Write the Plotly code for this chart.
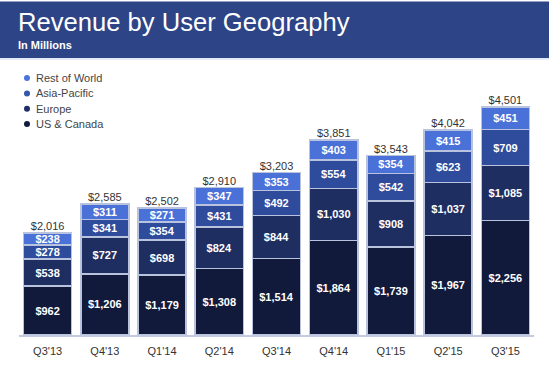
import plotly.graph_objects as go

quarters = ["Q3'13", "Q4'13", "Q1'14", "Q2'14", "Q3'14", "Q4'14", "Q1'15", "Q2'15", "Q3'15"]
us_canada = [962, 1206, 1179, 1308, 1514, 1864, 1739, 1967, 2256]
europe = [538, 727, 698, 824, 844, 1030, 908, 1037, 1085]
asia_pacific = [278, 341, 354, 431, 492, 554, 542, 623, 709]
rest_of_world = [238, 311, 271, 347, 353, 403, 354, 415, 451]
totals = [2016, 2585, 2502, 2910, 3203, 3851, 3543, 4042, 4501]

series_names = ["US & Canada", "Europe", "Asia-Pacific", "Rest of World"]
series_values = [us_canada, europe, asia_pacific, rest_of_world]
series_colors = ["#121a3b", "#1f2e61", "#2f4b9b", "#4a71d8"]
legend_colors = ["#121b3d", "#1f3066", "#3458a8", "#4a74dd"]

FONT = "Liberation Sans, Arial, Helvetica, sans-serif"

fig = go.Figure()
for name, vals, col in zip(series_names, series_values, series_colors):
    fig.add_trace(go.Bar(
        x=quarters, y=vals, name=name, showlegend=False,
        marker=dict(color=col, line=dict(color="#b9c3de", width=1.5)),
        text=[f"${v:,}" for v in vals], textposition="inside",
        insidetextanchor="middle",
        textfont=dict(color="white", size=11, family=FONT, weight="bold"),
        hoverinfo="skip",
    ))

fig.add_trace(go.Scatter(
    x=quarters, y=totals, mode="text", showlegend=False,
    text=[f"${v:,}" for v in totals], textposition="top center",
    textfont=dict(color="#333333", size=11, family=FONT),
    cliponaxis=False, hoverinfo="skip",
))

# plot area geometry in pixels (for paper conversions)
W, H = 549, 369
ml, mr, mt, mb = 19, 15, 80, 23
pw, ph = W - ml - mr, H - mt - mb

def px(x):
    return (x - ml) / pw

def py(y):
    return (H - mb - y) / ph

shapes = [
    dict(type="rect", xref="paper", yref="paper", x0=px(-2), x1=px(W + 2),
         y0=py(57), y1=py(-2), fillcolor="#2d4486", line=dict(width=0), layer="above"),
    dict(type="rect", xref="paper", yref="paper", x0=px(-2), x1=px(W + 2),
         y0=py(59), y1=py(57), fillcolor="#dfe6f4", line=dict(width=0), layer="above"),
]
annotations = [
    dict(text="Revenue by User Geography", x=px(16), y=py(19), xref="paper", yref="paper",
         xanchor="left", yanchor="middle", showarrow=False,
         font=dict(color="white", size=25.6, family=FONT)),
    dict(text="In Millions", x=px(16), y=py(43), xref="paper", yref="paper",
         xanchor="left", yanchor="middle", showarrow=False,
         font=dict(color="white", size=11, family=FONT, weight="bold")),
]

legend_rows = [78, 94, 110, 126]
for i, idx in enumerate([3, 2, 1, 0]):
    yy = legend_rows[i]
    shapes.append(dict(type="circle", xref="paper", yref="paper", xsizemode="pixel",
                       ysizemode="pixel", xanchor=px(27), yanchor=py(yy),
                       x0=-3, x1=3, y0=-3, y1=3, fillcolor=legend_colors[idx],
                       line=dict(width=0)))
    annotations.append(dict(text=series_names[idx], x=px(34), y=py(yy), xref="paper",
                            yref="paper", xanchor="left", yanchor="middle", showarrow=False,
                            font=dict(color="#444444", size=11, family=FONT)))

fig.update_layout(
    width=W, height=H, barmode="stack", bargap=0.16,
    margin=dict(l=ml, r=mr, t=mt, b=mb),
    paper_bgcolor="white", plot_bgcolor="white",
    font=dict(family=FONT, color="#333333", size=11),
    xaxis=dict(showgrid=False, showline=True, linecolor="#c3cbe0", linewidth=1.5,
               ticks="", ticklabelstandoff=5,
               tickfont=dict(size=11, color="#333333"), fixedrange=True),
    yaxis=dict(range=[0, 5030], visible=False, fixedrange=True),
    uniformtext=dict(minsize=11, mode="show"),
    shapes=shapes, annotations=annotations,
)

fig.write_html(
    "out.html",
    config={"displayModeBar": False},
    post_script="document.body.style.margin='0';document.body.style.padding='0';",
)
